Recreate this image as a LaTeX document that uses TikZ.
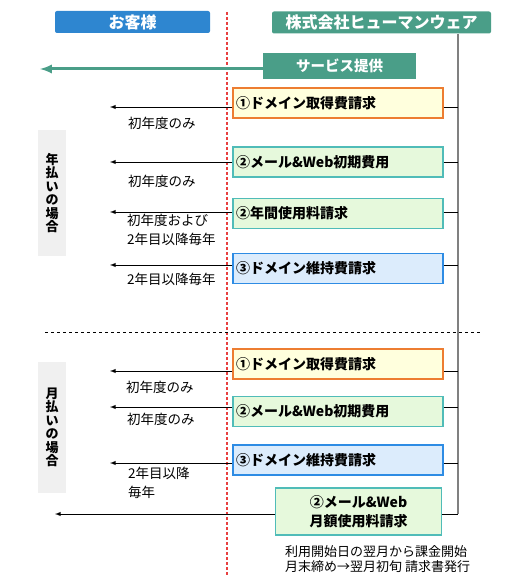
\documentclass[tikz,border=0pt]{standalone}
\usepackage{fontspec}
\setmainfont{Noto Sans CJK JP}[Kerning=Off]
\usetikzlibrary{arrows}
\definecolor{hblue}{RGB}{46,134,208}
\definecolor{hgreen}{RGB}{74,158,136}
\definecolor{borange}{RGB}{237,125,49}
\definecolor{fyellow}{RGB}{255,255,221}
\definecolor{bteal}{RGB}{80,188,184}
\definecolor{fgreen}{RGB}{230,249,220}
\definecolor{bblue}{RGB}{46,140,228}
\definecolor{fblue}{RGB}{220,236,252}
\definecolor{dotred}{RGB}{232,64,64}
\tikzset{
head/.style={rounded corners=2pt,text=white,inner sep=0pt,minimum height=22pt,font=\fontsize{16}{16}\selectfont\bfseries},
bill/.style={line width=1.5pt,minimum height=30pt,text width=204pt,inner xsep=3pt,inner ysep=0pt,align=left,font=\fontsize{14}{14}\selectfont\bfseries},
yrlabel/.style={anchor=north west,inner sep=0pt,align=left,font=\fontsize{13.5}{19}\selectfont},
band/.style={fill=black!6,minimum width=28pt,inner sep=0pt,align=center,font=\fontsize{13}{13.5}\selectfont\bfseries},
tobill/.style={-latex,line width=0.9pt},
}
\begin{document}
\begin{tikzpicture}[x=1pt,y=-1pt]
\useasboundingbox (0,0) rectangle (511,577);

\draw[dotred,line width=2pt,dash pattern=on 3pt off 2pt] (227,12)--(227,577);
\node[head,fill=hblue,minimum width=155pt] (cust) at (132.5,22) {お客様};
\node[head,fill=hgreen,minimum width=219pt] (corp) at (381.5,22.5) {株式会社ヒューマンウェア};
\coordinate (top) at (458,34);
\coordinate (bot) at (458,514);
\draw[black!50,line width=1.5pt] (top)--(bot);

\node[fill=hgreen,minimum width=153pt,minimum height=26pt,inner sep=0pt,text=white,font=\fontsize{14.5}{14.5}\selectfont\bfseries] (serv) at (339.5,66) {サービス提供};
\coordinate (servend) at (40,69);
\draw[hgreen,line width=3pt,-latex] (serv.west |- servend)--(servend);

\node[band,minimum height=126pt] (annual) at (52,193) {年\\払\\い\\の\\場\\合};
\node[band,minimum height=131pt] (monthly) at (52,427.5) {月\\払\\い\\の\\場\\合};
\draw[dashed,line width=0.6pt] (45,332)--(480,332);

\node[bill,draw=borange,fill=fyellow] (a1) at (338,103) {①ドメイン取得費請求};
\node[bill,draw=bteal,fill=fgreen] (a2) at (338,162) {②メール\&Web初期費用};
\node[bill,draw=bteal,fill=fgreen] (a3) at (338,213.5) {②年間使用料請求};
\node[bill,draw=bblue,fill=fblue] (a4) at (338,268.5) {③ドメイン維持費請求};
\node[bill,draw=borange,fill=fyellow] (m1) at (338,364) {①ドメイン取得費請求};
\node[bill,draw=bteal,fill=fgreen] (m2) at (338,411.5) {②メール\&Web初期費用};
\node[bill,draw=bblue,fill=fblue] (m3) at (338,460) {③ドメイン維持費請求};
\node[bill,draw=bteal,fill=fgreen,text width=160pt,minimum height=47pt,align=center,font=\fontsize{14}{19}\selectfont\bfseries] (m4) at (358.5,511.5) {②メール\&Web\\月額使用料請求};

\coordinate (ta1) at (110,107);
\coordinate (ta2) at (110,162);
\coordinate (ta3) at (110,212);
\coordinate (ta4) at (110,265);
\coordinate (tm1) at (110,371);
\coordinate (tm2) at (110,407);
\coordinate (tm3) at (110,463);
\coordinate (tm4) at (55,514);
\foreach \b in {a1,a2,a3,a4,m1,m2,m3,m4}{
\draw[tobill] (\b.west |- t\b)--(t\b);
\draw[line width=0.9pt] (\b.east |- t\b)--(top |- t\b);
}

\node[yrlabel] (la1) at (128,117) {初年度のみ};
\node[yrlabel] (la2) at (128,175) {初年度のみ};
\node[yrlabel] (la3) at (127,214) {初年度および\\2年目以降毎年};
\node[yrlabel] (la4) at (127,273) {2年目以降毎年};
\node[yrlabel] (lm1) at (126,381) {初年度のみ};
\node[yrlabel] (lm2) at (127,413) {初年度のみ};
\node[yrlabel] (lm3) at (128,467) {2年目以降\\毎年};
\node[anchor=north west,inner sep=0pt,align=left,font=\fontsize{13}{15}\selectfont] (note) at (285,545) {利用開始日の翌月から課金開始\\月末締め→翌月初旬 請求書発行};
\end{tikzpicture}
\end{document}
